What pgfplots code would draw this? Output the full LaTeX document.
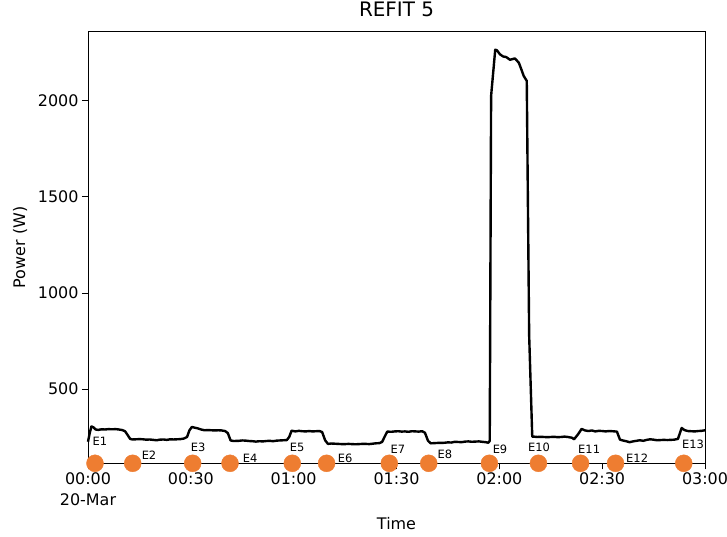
\documentclass[border=0pt]{standalone}
\usepackage{pgfplots}
\pgfplotsset{compat=1.18}
\usepackage{fontspec}
\setmainfont{DejaVu Sans}
\definecolor{mark}{RGB}{238,125,49}
\begin{document}
\begin{tikzpicture}
\useasboundingbox (0,0) rectangle (727bp,537bp);
\begin{axis}[
  at={(88bp,73.7bp)}, anchor=south west,
  width=617bp, height=431.6bp, scale only axis,
  xmin=0, xmax=180, ymin=113, ymax=2360,
  clip=false,
  tick pos=left, tick align=outside, major tick length=6bp,
  axis line style={line width=0.8bp},
  every tick/.style={black, line width=0.8bp},
  xtick={0,30,60,90,120,150,180},
  xticklabels={{00:00\\20-Mar},00:30,01:00,01:30,02:00,02:30,03:00},
  xticklabel style={align=center, font=\fontsize{16}{21}\selectfont},
  ytick={500,1000,1500,2000},
  yticklabel style={font=\fontsize{16}{19}\selectfont},
  /pgf/number format/assume math mode=true,
  /pgf/number format/1000 sep={},
  xlabel={Time}, ylabel={Power (W)},
  xlabel style={at={(axis description cs:0.5,-0.1406)}, anchor=center, font=\fontsize{16}{19}\selectfont},
  ylabel style={at={(axis description cs:-0.110,0.5)}, anchor=center, font=\fontsize{16}{19}\selectfont},
  title={REFIT 5},
  title style={at={(axis description cs:0.5,1.0387)}, anchor=center, font=\fontsize{20}{24}\selectfont},
]
\addplot[black, line width=2.4bp, line join=round] coordinates {
(0,225) (0.5,270) (1.0,305) (1.6,300) (2.2,289) (3,287) (4,290) (5,289) (6,291) (7,290) (8,291) (9,289) (10,286) (10.8,280) (11.5,262) (12.3,240)
(13,237) (14,238) (15,239) (16,238) (17,236) (18,237) (19,235) (20,233) (21,236) (22,237) (23,235) (24,238) (25,237) (26,238) (27,239) (28,242)
(28.9,250) (29.6,285) (30.3,302) (31,299) (32,295) (33,289) (34,285) (35,286) (36,285) (37,284) (38,285) (39,284) (40,281) (40.8,270) (41.6,232)
(42.5,229) (44,230) (45,232) (46,231) (47,229) (48,228) (49,226) (50,228) (51,227) (52,229) (53,230) (54,228) (55,231) (56,232) (57,233) (58,234)
(58.7,250) (59.4,283) (60.5,279) (61.5,282) (62.5,280) (63.5,279) (64.5,281) (65.5,279) (66.5,280) (67.5,281) (68.3,276) (69.2,232)
(70,214) (71,216) (72,215) (73,214) (74,213) (75,213) (76,214) (77,213) (78,212) (79,213) (80,214) (81,214) (82,213) (83,215) (84,217) (85,218)
(85.8,224) (86.5,250) (87.3,278) (88.5,277) (89.5,279) (90.5,280) (91.5,278) (92.5,279) (93.5,277) (94.5,280) (95.5,279) (96.5,278) (97.5,280) (98.3,272) (99.2,230)
(100,217) (101,218) (102,219) (103,219) (104,220) (105,222) (106,221) (107,225) (108,224) (109,223) (110,226) (111,227) (112,225) (113,226) (114,227) (115,225) (116,223) (116.8,220)
(117.2,230) (117.6,2026) (118.8,2266) (119.3,2263) (120.2,2242) (121.1,2231) (122,2228) (123.1,2214) (124.0,2218) (124.5,2221) (125.1,2210) (125.7,2198) (126.5,2160) (127.1,2130) (128.0,2104)
(128.7,780) (129.6,252)
(130,252) (131,250) (132,251) (133,250) (134,249) (135,250) (136,251) (137,249) (138,250) (139,252) (140,250) (141.2,246) (141.8,238) (143,265) (144,292)
(145,284) (146,281) (147,284) (148,279) (149,282) (150,281) (151,279) (152,281) (153,280) (154.3,278) (155.2,236) (156,232) (157,228) (158,223) (159,227)
(160,230) (161,233) (162,230) (163,235) (164,238) (165,236) (166,233) (167,234) (168,235) (169,234) (170,235) (171,236) (172.1,240) (173.2,297) (174,286)
(175,281) (176,280) (177,279) (178,281) (179,282) (180,285)
};
\addplot[only marks, mark=*, mark size=8.5bp, color=mark, mark options={draw=mark, fill=mark}] coordinates {
(2.04,113) (13.04,113) (30.54,113) (41.43,113) (59.6,113) (69.6,113) (87.9,113) (99.4,113) (117.1,113) (131.4,113) (143.7,113) (153.9,113) (173.8,113)
};
\begin{scope}[every node/.style={font=\fontsize{11.5}{13}\selectfont, anchor=center, inner sep=0pt}]
\node at (axis cs:3.5,229) {E1};
\node at (axis cs:17.8,156) {E2};
\node at (axis cs:32.1,198) {E3};
\node at (axis cs:47.3,141) {E4};
\node at (axis cs:61.0,198) {E5};
\node at (axis cs:75.0,141) {E6};
\node at (axis cs:90.4,187) {E7};
\node at (axis cs:104.1,161) {E8};
\node at (axis cs:120.2,187) {E9};
\node at (axis cs:131.6,198) {E10};
\node at (axis cs:146.2,187) {E11};
\node at (axis cs:160.2,141) {E12};
\node at (axis cs:176.5,214) {E13};
\end{scope}
\end{axis}
\end{tikzpicture}
\end{document}
